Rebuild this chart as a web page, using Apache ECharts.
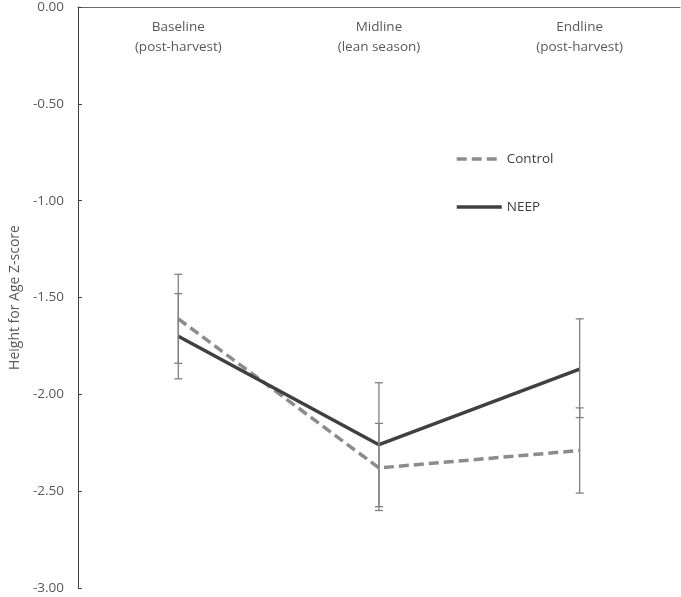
<!DOCTYPE html>
<html><head><meta charset="utf-8">
<script src="https://cdn.jsdelivr.net/npm/echarts@6/dist/echarts.min.js"></script>
<style>html,body{margin:0;padding:0;background:#fff}#c{width:681px;height:597px}</style>
</head><body><div id="c"></div>
<script>
const categories = ['Baseline\n(post-harvest)', 'Midline\n(lean season)', 'Endline\n(post-harvest)'];
const controlMean = [-1.61, -2.38, -2.29];
const controlLow = [-1.84, -2.60, -2.51];
const controlHigh = [-1.38, -2.15, -2.07];
const neepMean = [-1.70, -2.26, -1.87];
const neepLow = [-1.92, -2.58, -2.12];
const neepHigh = [-1.48, -1.94, -1.61];
const yTicks = {min: -3, max: 0, interval: 0.5};

const errData = [];
for (let i = 0; i < categories.length; i++) {
  errData.push([i, controlLow[i], controlHigh[i]]);
  errData.push([i, neepLow[i], neepHigh[i]]);
}
const font = '"Open Sans", "Liberation Sans", sans-serif';
const chart = echarts.init(document.getElementById('c'));
chart.setOption({
  animation: false,
  grid: {left: 74, top: 6, right: 1, bottom: 9},
  legend: {
    orient: 'vertical', left: 450, top: 147, itemGap: 34, itemWidth: 45, itemHeight: 16,
    itemStyle: {opacity: 0},
    lineStyle: {width: 3.5},
    textStyle: {color: '#404040', fontSize: 13.5, fontFamily: font},
    data: ['Control', 'NEEP']
  },
  xAxis: {
    type: 'category', position: 'top', data: categories, boundaryGap: true,
    axisLine: {lineStyle: {color: '#6b6b6b', width: 1}},
    axisTick: {inside: true, alignWithLabel: true, length: 4, lineStyle: {color: '#6b6b6b'}},
    axisLabel: {inside: true, margin: 10, color: '#595959', fontSize: 13.5, fontFamily: font, lineHeight: 20}
  },
  yAxis: {
    type: 'value', min: yTicks.min, max: yTicks.max, interval: yTicks.interval,
    name: 'Height for Age Z-score', nameLocation: 'middle', nameGap: 54, nameRotate: 90,
    nameTextStyle: {color: '#595959', fontSize: 14, fontFamily: font},
    splitLine: {show: false},
    axisLine: {show: true, lineStyle: {color: '#404040', width: 1}},
    axisTick: {show: true, inside: true, length: 4, lineStyle: {color: '#404040'}},
    axisLabel: {formatter: v => v.toFixed(2), color: '#595959', fontSize: 13.5, fontFamily: font, margin: 14}
  },
  series: [
    {
      name: 'Control', type: 'line', data: controlMean, symbol: 'none', z: 3,
      lineStyle: {color: '#8c8c8c', width: 3.5, type: [10, 5]},
      itemStyle: {color: '#8c8c8c'}
    },
    {
      name: 'NEEP', type: 'line', data: neepMean, symbol: 'none', z: 3,
      lineStyle: {color: '#404040', width: 3.5, type: 'solid'},
      itemStyle: {color: '#404040'}
    },
    {
      type: 'custom', z: 4, data: errData, silent: true,
      renderItem: function (params, api) {
        const x = api.value(0);
        const lo = api.coord([x, api.value(1)]);
        const hi = api.coord([x, api.value(2)]);
        const w = 4;
        const st = {stroke: '#808080', lineWidth: 1.3};
        return {type: 'group', children: [
          {type: 'line', shape: {x1: lo[0], y1: lo[1], x2: hi[0], y2: hi[1]}, style: st},
          {type: 'line', shape: {x1: lo[0] - w, y1: lo[1], x2: lo[0] + w, y2: lo[1]}, style: st},
          {type: 'line', shape: {x1: hi[0] - w, y1: hi[1], x2: hi[0] + w, y2: hi[1]}, style: st}
        ]};
      }
    }
  ]
});
</script></body></html>
